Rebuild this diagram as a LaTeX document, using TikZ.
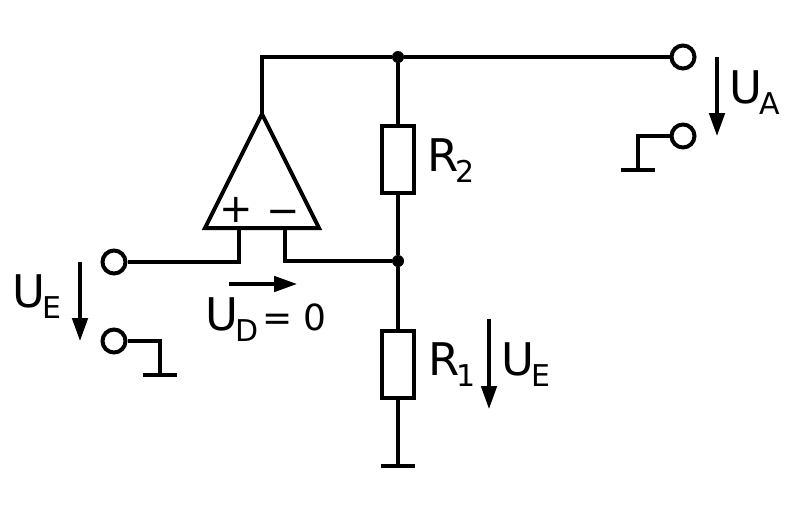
\documentclass[tikz,border=0pt]{standalone}
\usepackage{fontspec}
\setmainfont{DejaVu Sans}
\usetikzlibrary{arrows.meta,positioning,calc}

\newcommand{\biglabel}[2]{\fontsize{45}{45}\selectfont #1\kern-3pt\raisebox{-11pt}{\fontsize{30}{30}\selectfont #2}}

\tikzset{
        wire/.style={line width=4pt,line join=miter},
        terminal/.style={circle,draw,line width=4pt,fill=white,minimum size=23pt,inner sep=0pt},
        junction/.style={circle,fill=black,minimum size=12pt,inner sep=0pt},
        resistor/.style={rectangle,draw,line width=4pt,fill=white,minimum width=32pt,minimum height=67pt,inner sep=0pt},
        voltage/.style={line width=3.4pt,-{Triangle[length=23pt,width=15.5pt]}},
        caption/.style={anchor=base west,inner sep=0pt},
        sign/.style={inner sep=0pt,font=\fontsize{40}{40}\selectfont}
}

\begin{document}
\begin{tikzpicture}[x=1pt,y=-1pt]
        \useasboundingbox (0,0) rectangle (797,512);

        % terminals, junctions, resistors
        \node[terminal] (outtop) at (683,57) {};
        \node[terminal] (outbot) at (683,136) {};
        \node[terminal] (intop) at (114,262) {};
        \node[terminal] (inbot) at (114,341) {};
        \node[junction] (dottop) at (398,57) {};
        \node[junction] (dotmid) at (398,261) {};
        \node[resistor] (rtwo) at (398,159) {};
        \node[resistor] (rone) at (398,364) {};

        % opamp
        \coordinate (apex) at (262,114);
        \coordinate (baseleft) at (205,228);
        \coordinate (baseright) at (319,228);
        \coordinate (pinplus) at (239,228);
        \coordinate (pinminus) at (285,228);
        \draw[wire] (apex) -- (baseleft) -- (baseright) -- cycle;
        \node[sign] (plus) at (236,210) {+};
        \node[sign] (minus) at (283,217) {−};

        % wires
        \draw[wire] (apex) |- (dottop);
        \draw[wire] (dottop) -- (outtop);
        \draw[wire] (dottop) -- (rtwo);
        \draw[wire] (rtwo) -- (dotmid);
        \draw[wire] (dotmid) -- (rone);
        \draw[wire] (pinplus) |- (intop);
        \draw[wire] (pinminus) |- (dotmid);

        % grounds
        \coordinate (gndmid) at (398,466);
        \coordinate (gndin) at (160,375);
        \coordinate (gndout) at (638,170);
        \draw[wire] (rone) -- (gndmid);
        \draw[wire] (inbot) -| (gndin);
        \draw[wire] (outbot) -| (gndout);
        \foreach \g in {gndmid,gndin,gndout}{
                \draw[wire] ($(\g)+(-17,0)$) -- ($(\g)+(17,0)$);
        }

        % voltage arrows
        \coordinate (uetop) at (80,262);
        \coordinate (uebot) at (80,341);
        \coordinate (udleft) at (229,284);
        \coordinate (udright) at (297,284);
        \coordinate (uatop) at (717,57);
        \coordinate (uabot) at (717,136);
        \coordinate (urtop) at (489,319);
        \coordinate (urbot) at (489,409);
        \draw[voltage] (uetop) -- (uebot);
        \draw[voltage] (udleft) -- (udright);
        \draw[voltage] (uatop) -- (uabot);
        \draw[voltage] (urtop) -- (urbot);

        % labels
        \node[caption] (labelue) at (12,307) {\biglabel{U}{E}};
        \node[caption] (labelud) at (205,330) {\biglabel{U}{D}\kern4pt\fontsize{36}{36}\selectfont= 0};
        \node[caption] (labelua) at (729,103) {\biglabel{U}{A}};
        \node[caption] (labelrtwo) at (427,171) {\biglabel{R}{2}};
        \node[caption] (labelrone) at (428,375) {\biglabel{R}{1}};
        \node[caption] (labelur) at (501,375) {\biglabel{U}{E}};
\end{tikzpicture}
\end{document}
